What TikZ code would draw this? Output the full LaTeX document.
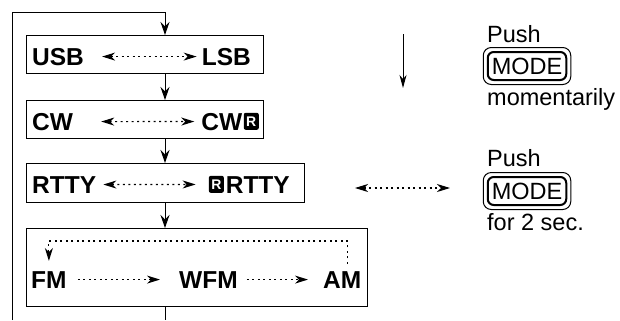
\documentclass[tikz,border=0pt]{standalone}
\usepackage{fontspec}
\setmainfont{Liberation Sans}
\usetikzlibrary{arrows.meta, positioning}

% the small black R mark
\newcommand{\revR}{\tikz[baseline=0pt]\node[fill=black, rounded corners=2bp, text=white, inner sep=0pt,
  minimum width=15bp, minimum height=17bp, anchor=south, font=\bfseries\fontsize{14bp}{14bp}\selectfont] at (0,0) {R};}

\begin{document}
\begin{tikzpicture}[x=1bp, y=-1bp,
    modebox/.style={draw, line width=1bp, anchor=north west, inner sep=0pt},
    label/.style={font=\bfseries\fontsize{24.5bp}{28bp}\selectfont, inner sep=0pt},
    note/.style={font=\fontsize{23.5bp}{28bp}\selectfont, inner sep=0pt, anchor=base west},
    flow/.style={line width=1bp, -{Stealth[length=13bp, width=9bp, inset=4.5bp]}},
    dotarr/.style={line width=1.1bp, dash pattern=on 2bp off 3.5bp,
      {Stealth[length=13bp, width=8bp, inset=4bp]}-{Stealth[length=13bp, width=8bp, inset=4bp]}},
    dotone/.style={line width=1.1bp, dash pattern=on 2bp off 3.5bp,
      -{Stealth[length=13bp, width=8bp, inset=4bp]}},
    key/.style={draw, line width=2bp, rounded corners=6bp, inner xsep=4bp, inner ysep=0pt,
      minimum height=28bp, font=\fontsize{23.5bp}{28bp}\selectfont}]
  \useasboundingbox (0,0) rectangle (620,320);
  \clip (0,0) rectangle (620,320);

  % mode groups
  \node[modebox, minimum width=237bp, minimum height=38bp] (b1) at (26,35) {};
  \node[modebox, minimum width=237bp, minimum height=38bp] (b2) at (26,100) {};
  \node[modebox, minimum width=278bp, minimum height=39bp] (b3) at (26,163) {};
  \node[modebox, minimum width=341bp, minimum height=78bp] (b4) at (26,228) {};

  \node[label, anchor=base west] (usb) at (32,65) {USB};
  \node[label, anchor=base east] (lsb) at (251,65) {LSB};
  \node[label, anchor=base west] (cw) at (32,130) {CW};
  \node[label, anchor=base east] (cwr) at (259,130) {CW\hspace{1.5bp}\revR};
  \node[label, anchor=base west] (rtty) at (32,193) {RTTY};
  \node[label, anchor=base east] (rrtty) at (290,193) {\revR\hspace{2bp}RTTY};
  \node[label, anchor=base west] (fm) at (31,288) {FM};
  \node[label, anchor=base west] (wfm) at (179,288) {WFM};
  \node[label, anchor=base west] (am) at (323,288) {AM};

  \draw[dotarr, shorten <=18bp, shorten >=5bp] (usb) -- (lsb);
  \draw[dotarr, shorten <=28bp, shorten >=7bp] (cw) -- (cwr);
  \draw[dotarr, shorten <=7bp, shorten >=13bp] (rtty) -- (rrtty);
  \draw[dotone, shorten <=11bp, shorten >=19bp] (fm) -- (wfm);
  \draw[dotone, shorten <=9bp, shorten >=15bp] (wfm) -- (am);
  \coordinate (lp) at (0,241);
  \draw[dotone, shorten <=7bp, shorten >=10bp] ([xshift=5bp]am.north) -- ([xshift=5bp]am.north |- lp)
    -- (fm.north |- lp) -- (fm.north);

  % main loop
  \coordinate (col) at (165,0);
  \coordinate (lt) at (12,12);
  \coordinate (lb) at (12,320);
  \draw[flow] (lb) -- (lt) -| (b1.north -| col);
  \draw[flow] (b1.south -| col) -- (b2.north -| col);
  \draw[flow] (b2.south -| col) -- (b3.north -| col);
  \draw[flow] (b3.south -| col) -- (b4.north -| col);
  \draw[line width=1bp] (b4.south -| col) -- (col |- lb);

  % legend
  \coordinate (d1) at (403,34);
  \coordinate (d2) at (403,88);
  \draw[line width=1bp, -{Stealth[length=13bp, width=7bp, inset=4bp]}] (d1) -- (d2);
  \coordinate (h1) at (355,188);
  \coordinate (h2) at (450,188);
  \draw[dotarr] (h1) -- (h2);

  \node[note] (push1) at (487,42) {Push};
  \node[key] (mode1) at (527,66) {MODE};
  \draw[line width=1bp, rounded corners=8bp] ([shift={(-3.5bp,-3.5bp)}]mode1.south west) rectangle ([shift={(3.5bp,3.5bp)}]mode1.north east);
  \node[note] (mom) at (487,105) {momentarily};

  \node[note] (push2) at (487,166) {Push};
  \node[key] (mode2) at (527,191) {MODE};
  \draw[line width=1bp, rounded corners=8bp] ([shift={(-3.5bp,-3.5bp)}]mode2.south west) rectangle ([shift={(3.5bp,3.5bp)}]mode2.north east);
  \node[note] (sec) at (487,230) {for 2 sec.};
\end{tikzpicture}
\end{document}
